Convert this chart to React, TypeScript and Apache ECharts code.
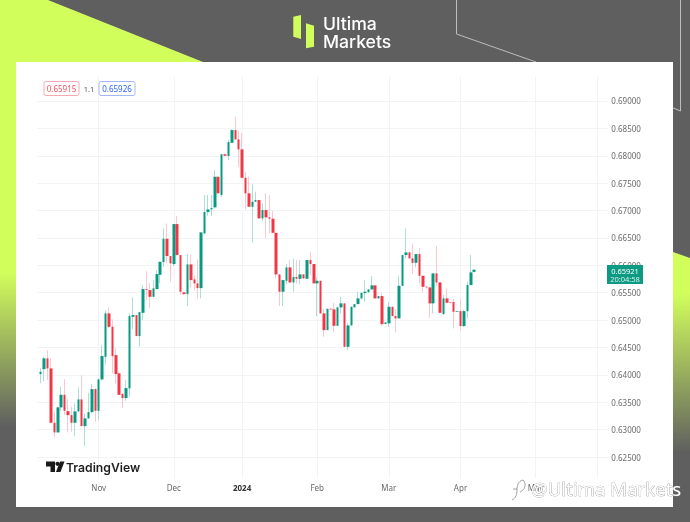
import React, { useEffect, useRef } from "react";
import * as echarts from "echarts";

const opens = [
  0.64014,0.64105,0.64301,0.64118,0.63125,0.62949,0.63406,0.63636,0.63338,0.63265,
  0.63125,0.63333,0.63552,0.63064,0.63205,0.63320,0.63740,0.63344,0.63917,0.64330,
  0.65122,0.64878,0.64361,0.64027,0.63654,0.63576,0.63753,0.65060,0.65091,0.64708,
  0.65133,0.65566,0.65548,0.65425,0.65566,0.65827,0.66059,0.66485,0.66169,0.66023,
  0.66753,0.66187,0.65506,0.65475,0.66017,0.65743,0.65670,0.65584,0.66583,0.66972,
  0.67021,0.67058,0.67617,0.67283,0.68026,0.67995,0.68237,0.68469,0.68300,0.68117,
  0.67598,0.67314,0.67069,0.67160,0.67191,0.66857,0.67009,0.66875,0.66850,0.66594,
  0.65834,0.65517,0.65718,0.65962,0.65688,0.65785,0.65754,0.65834,0.65754,0.66096,
  0.66023,0.65670,0.65718,0.65122,0.64817,0.65206,0.65195,0.64896,0.65232,0.65305,
  0.64512,0.64903,0.65232,0.65292,0.65396,0.65493,0.65511,0.65561,0.65634,0.65396,
  0.65438,0.64927,0.64940,0.65243,0.65073,0.65031,0.65626,0.66187,0.66236,0.66127,
  0.66046,0.66205,0.65809,0.65608,0.65597,0.65305,0.65853,0.65688,0.65110,0.65396,
  0.65329,0.65329,0.65152,0.65164,0.64890,0.65164,0.65639,0.65880,
];
const closes = [
  0.64056,0.64301,0.64118,0.63125,0.62949,0.63406,0.63636,0.63344,0.63265,0.63125,
  0.63333,0.63552,0.63064,0.63205,0.63320,0.63740,0.63344,0.63917,0.64343,0.65122,
  0.64878,0.64343,0.64014,0.63636,0.63576,0.63758,0.65073,0.65091,0.64708,0.65146,
  0.65566,0.65548,0.65425,0.65579,0.65840,0.66065,0.66485,0.66169,0.66035,0.66753,
  0.66187,0.65517,0.65475,0.66017,0.65730,0.65670,0.65584,0.66601,0.66972,0.67021,
  0.67045,0.67617,0.67314,0.68026,0.68000,0.68250,0.68469,0.68300,0.68117,0.67598,
  0.67314,0.67069,0.67160,0.67191,0.66857,0.67009,0.66875,0.66850,0.66594,0.65834,
  0.65517,0.65730,0.65962,0.65688,0.65785,0.65754,0.65834,0.65761,0.66096,0.66023,
  0.65670,0.65718,0.65122,0.64817,0.65206,0.65195,0.64896,0.65232,0.65305,0.64512,
  0.64903,0.65243,0.65292,0.65396,0.65498,0.65517,0.65561,0.65634,0.65396,0.65438,
  0.64927,0.64958,0.65243,0.65073,0.65031,0.65626,0.66187,0.66236,0.66127,0.66046,
  0.66205,0.65809,0.65608,0.65597,0.65305,0.65853,0.65688,0.65133,0.65396,0.65316,
  0.65316,0.65152,0.65164,0.64890,0.65164,0.65639,0.65871,0.65921,
];
const highs = [
  0.64118,0.64330,0.64452,0.64301,0.63326,0.63417,0.63782,0.63923,0.63557,0.63417,
  0.63479,0.63771,0.63996,0.63296,0.63673,0.63831,0.63753,0.63935,0.64544,0.65183,
  0.65232,0.65013,0.64483,0.64038,0.63662,0.63904,0.65122,0.65415,0.65091,0.65152,
  0.65639,0.65895,0.65681,0.65730,0.65913,0.66065,0.66674,0.66766,0.66169,0.66753,
  0.66899,0.66187,0.65517,0.66200,0.66187,0.65822,0.66108,0.66601,0.67283,0.67283,
  0.67283,0.67739,0.67617,0.68026,0.68044,0.68287,0.68482,0.68712,0.68457,0.68409,
  0.67708,0.67617,0.67478,0.67343,0.67191,0.67131,0.67314,0.67283,0.66996,0.66594,
  0.65834,0.65730,0.66023,0.66096,0.66119,0.66096,0.66096,0.65834,0.66096,0.66242,
  0.66023,0.65780,0.65718,0.65195,0.65206,0.65214,0.65316,0.65232,0.65425,0.65305,
  0.64940,0.65243,0.65292,0.65517,0.65498,0.65730,0.65561,0.65803,0.65634,0.65438,
  0.65488,0.64958,0.65334,0.65243,0.65195,0.65803,0.66187,0.66674,0.66236,0.66388,
  0.66205,0.66309,0.65809,0.65621,0.65597,0.65853,0.66351,0.65688,0.65457,0.65579,
  0.65329,0.65396,0.65164,0.65378,0.65183,0.65699,0.66187,0.65921,
];
const lows = [
  0.63844,0.63886,0.63904,0.63114,0.62858,0.62942,0.63344,0.63265,0.62949,0.62960,
  0.62882,0.63326,0.63064,0.62705,0.63205,0.63296,0.63143,0.63174,0.63904,0.64191,
  0.64848,0.64027,0.63844,0.63631,0.63388,0.63526,0.63599,0.64830,0.64708,0.64512,
  0.65000,0.65365,0.65214,0.65415,0.65561,0.65670,0.65973,0.66046,0.65699,0.65986,
  0.66187,0.65457,0.65457,0.65256,0.65597,0.65548,0.65389,0.65396,0.66570,0.66899,
  0.66899,0.67040,0.67314,0.67251,0.67995,0.67922,0.68237,0.68287,0.67799,0.67587,
  0.67021,0.67069,0.66411,0.67160,0.66857,0.66808,0.66492,0.66583,0.66594,0.65761,
  0.65256,0.65256,0.65657,0.65670,0.65517,0.65670,0.65652,0.65761,0.65754,0.65822,
  0.65670,0.65073,0.65122,0.64695,0.64817,0.65183,0.64786,0.64896,0.65122,0.64512,
  0.64452,0.64890,0.65225,0.65292,0.65378,0.65334,0.65488,0.65548,0.65396,0.65396,
  0.64890,0.64927,0.64878,0.65073,0.64775,0.65031,0.65626,0.66127,0.66127,0.65840,
  0.65962,0.65670,0.65517,0.65572,0.65042,0.65122,0.65626,0.65133,0.65091,0.65305,
  0.65316,0.64848,0.65152,0.64805,0.64878,0.65031,0.65639,0.65871,
];

const priceTicks = [
  0.625,0.63,0.635,0.64,0.645,0.65,0.655,0.66,0.665,0.67,0.675,0.68,0.685,0.69,
];
const monthLabels = ["Nov", "Dec", "2024", "Feb", "Mar", "Apr", "May"];
const monthSlots = [18, 40, 60, 82, 103, 124, 146];
const separatorSlot = 164;
const slotCount = 168;
const firstBarSlot = 1;

const bidPrice = "0.65915";
const spreadText = "1.1";
const askPrice = "0.65926";
const lastPrice = "0.65921";
const countdown = "20:04:58";

const UP = "#089981";
const DOWN = "#F23645";
const UP_WICK = "#aadfd5";
const DOWN_WICK = "#fcc8cd";
const LIME = "#d2fe5c";
const GREY = "#5f5f5f";
const UI_FONT = '"Noto Sans", sans-serif';

const slots = Array.from({ length: slotCount }, (_, i) => {
  const m = monthSlots.indexOf(i);
  return m >= 0 ? monthLabels[m] : "";
});

const wickData = opens.map((o, i) => [i + firstBarSlot, o, closes[i], lows[i], highs[i]]);
const bodyData = opens.map((o, i) => [
  i + firstBarSlot,
  o,
  closes[i],
  Math.min(o, closes[i]),
  Math.max(o, closes[i]),
]);

echarts.graphic.registerShape(
  "wmIcon",
  echarts.graphic.extendPath("M11 0C6 1 5 6 5 10C5 14 4 18 0 20M11 0C15 4 13 10 8 12M1 9L5 9", {}) as any
);

const backdrop = [
  { type: "rect", z: -30, shape: { x: 0, y: 0, width: 690, height: 522 }, style: { fill: GREY } },
  { type: "polygon", z: -29, shape: { points: [[0, 0], [48, 0], [203, 62], [0, 62]] }, style: { fill: LIME } },
  {
    type: "rect",
    z: -29,
    shape: { x: 0, y: 62, width: 16, height: 460 },
    style: {
      fill: {
        type: "linear", x: 0, y: 0, x2: 0, y2: 1,
        colorStops: [
          { offset: 0, color: LIME },
          { offset: 0.457, color: LIME },
          { offset: 0.793, color: GREY },
          { offset: 1, color: GREY },
        ],
      },
    },
  },
  {
    type: "polygon",
    z: -29,
    shape: { points: [[673, 252], [690, 258], [690, 522], [673, 522]] },
    style: {
      fill: {
        type: "linear", x: 0, y: 0, x2: 0, y2: 1,
        colorStops: [
          { offset: 0, color: LIME },
          { offset: 0.152, color: LIME },
          { offset: 0.744, color: GREY },
          { offset: 1, color: GREY },
        ],
      },
    },
  },
  { type: "polyline", z: -28, shape: { points: [[456.5, 0], [456.5, 34], [536, 62]] }, style: { stroke: "#bdbdbd", fill: "none", lineWidth: 1 } },
  { type: "polyline", z: -28, shape: { points: [[680.5, 0], [680.5, 111], [672, 107.5]] }, style: { stroke: "#bdbdbd", fill: "none", lineWidth: 1 } },
  { type: "rect", z: -20, shape: { x: 16, y: 62, width: 657, height: 445 }, style: { fill: "#ffffff" } },
];

const logo = [
  { type: "polygon", z: 20, shape: { points: [[293.3, 16.7], [301, 15], [301, 39], [293.3, 36.7]] }, style: { fill: LIME } },
  { type: "polygon", z: 20, shape: { points: [[306, 23.3], [314, 25.7], [314, 46.7], [306, 48.3]] }, style: { fill: LIME } },
  { type: "text", z: 20, x: 323, y: 32.5, style: { text: "Ultima", fill: "#ffffff", font: '500 17.6px Inter, sans-serif', textVerticalAlign: "bottom" } },
  { type: "text", z: 20, x: 323, y: 50.5, style: { text: "Markets", fill: "#ffffff", font: '500 17.6px Inter, sans-serif', textVerticalAlign: "bottom" } },
];

const badge = (x: number, w: number, text: string, color: string, border: string) => [
  { type: "rect", z: 20, shape: { x: x + 0.5, y: 81.5, width: w, height: 14, r: 2 }, style: { fill: "#ffffff", stroke: border, lineWidth: 1 } },
  { type: "text", z: 21, x: x + 0.5 + w / 2, y: 88.5, style: { text, fill: color, font: `8px ${UI_FONT}`, textAlign: "center", textVerticalAlign: "middle" } },
];

const overlays = [
  ...badge(43.5, 35, bidPrice, "#f7525f", "#f7a9b0"),
  { type: "text", z: 21, x: 89, y: 88.5, style: { text: spreadText, fill: "#555555", font: `7.5px ${UI_FONT}`, textAlign: "center", textVerticalAlign: "middle" } },
  ...badge(98.5, 36, askPrice, "#2962ff", "#a3b8f5"),
  { type: "rect", z: 20, shape: { x: 607, y: 265, width: 36, height: 19 }, style: { fill: "#0c9a83" } },
  { type: "text", z: 21, x: 625, y: 270.5, style: { text: lastPrice, fill: "#ffffff", font: `7.5px ${UI_FONT}`, textAlign: "center", textVerticalAlign: "middle" } },
  { type: "text", z: 21, x: 625, y: 279, style: { text: countdown, fill: "#d7efe9", font: `7.5px ${UI_FONT}`, textAlign: "center", textVerticalAlign: "middle" } },
  { type: "polygon", z: 20, shape: { points: [[46, 461.5], [55, 461.5], [55, 472], [50.5, 472], [50.5, 466.5], [46, 466.5]] }, style: { fill: "#1a1a1a" } },
  { type: "circle", z: 20, shape: { cx: 57.5, cy: 463.8, r: 2.1 }, style: { fill: "#1a1a1a" } },
  { type: "polygon", z: 20, shape: { points: [[60, 461.5], [64.5, 461.5], [60.5, 472], [56, 472]] }, style: { fill: "#1a1a1a" } },
  { type: "text", z: 20, x: 66, y: 467, style: { text: "TradingView", fill: "#1f1f1f", font: `600 12.2px Inter, sans-serif`, textVerticalAlign: "middle" } },
  { type: "wmIcon", z: 22, x: 512, y: 480, style: { fill: "none", stroke: "#8a8a8a", lineWidth: 0.8 } },
  { type: "text", z: 22, x: 531, y: 488, style: { text: "@Ultima Markets", fill: "#ffffff", stroke: "#8a8a8a", lineWidth: 0.6, font: `18.6px ${UI_FONT}`, textVerticalAlign: "middle" } },
];

export default function App() {
  const ref = useRef<HTMLDivElement>(null);
  useEffect(() => {
    const chart = echarts.init(ref.current!, undefined, { renderer: "svg" });
    chart.setOption({
      animation: false,
      backgroundColor: "transparent",
      grid: { left: 37.3, right: 82.7, top: 77, bottom: 44 },
      xAxis: {
        type: "category",
        data: slots,
        boundaryGap: false,
        axisLine: { show: false },
        axisTick: { show: false },
        axisLabel: {
          interval: (i: number) => monthSlots.includes(i),
          margin: 5,
          color: "#6a6a6a",
          fontSize: 8,
          fontFamily: UI_FONT,
          formatter: (v: string) => (v === "2024" ? `{b|${v}}` : v),
          rich: { b: { fontWeight: 700, color: "#333333", fontSize: 8, fontFamily: UI_FONT } },
        },
        splitLine: {
          show: true,
          interval: (i: number) => monthSlots.includes(i) || i === separatorSlot,
          lineStyle: { color: "#f2f3f4", width: 1 },
        },
      },
      yAxis: {
        type: "value",
        position: "right",
        min: 0.62117,
        max: 0.69438,
        axisLine: { show: false },
        axisTick: { show: false, customValues: priceTicks },
        axisLabel: {
          customValues: priceTicks,
          margin: 4,
          color: "#6a6a6a",
          fontSize: 8,
          fontFamily: UI_FONT,
          formatter: (v: number) => v.toFixed(5),
        },
        splitLine: { show: true, lineStyle: { color: "#f2f3f4", width: 1 } },
      },
      graphic: { elements: [...backdrop, ...logo, ...overlays] },
      series: [
        {
          type: "candlestick",
          name: "wicks",
          data: wickData,
          encode: { x: 0, y: [1, 2, 3, 4] },
          barWidth: 1,
          itemStyle: { color: UP_WICK, color0: DOWN_WICK, borderColor: UP_WICK, borderColor0: DOWN_WICK, borderWidth: 1 },
          z: 3,
        },
        {
          type: "candlestick",
          name: "bodies",
          data: bodyData,
          encode: { x: 0, y: [1, 2, 3, 4] },
          barWidth: 3,
          itemStyle: { color: UP, color0: DOWN, borderColor: UP, borderColor0: DOWN, borderWidth: 0 },
          z: 4,
        },
      ],
    });
    return () => chart.dispose();
  }, []);
  return (
    <div
      ref={ref}
      style={{ position: "absolute", left: 0, top: 0, width: 690, height: 522, filter: "blur(0.4px)" }}
    />
  );
}
